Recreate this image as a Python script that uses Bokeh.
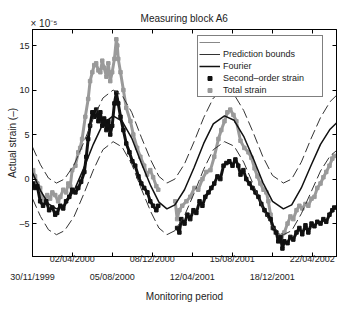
import math
from bokeh.plotting import figure
from bokeh.models import FixedTicker, LinearAxis, Range1d, Legend, LegendItem, Title
from bokeh.embed import file_html
from bokeh.resources import INLINE

NAN = float("nan")
FONT = "Liberation Sans"

chart_title = "Measuring block A6"
x_title = "Monitoring period"
y_title = "Actual strain (–)"
exp_note = "× 10⁻⁵"

# x positions are days since 30/11/1999
tick_days = [0, 124, 249, 374, 499, 624, 749, 874]
tick_labels = ["30/11/1999", "02/04/2000", "05/08/2000", "08/12/2000",
               "12/04/2001", "15/08/2001", "18/12/2001", "22/04/2002"]
y_ticks = [-5, 0, 5, 10, 15]
y_tick_labels = ["–5", "0", "5", "10", "15"]

# values in units of 1e-5
fourier_day = [0, 25, 50, 75, 100, 130, 160, 190, 220, 252, 280, 310, 340, 370, 395, 420,
               445, 475, 505, 535, 565, 600, 630, 660, 690, 720, 750, 784, 810, 840, 870,
               900, 930, 950]
fourier = [0.7, -1.3, -2.8, -3.35, -2.9, -1.3, 1.2, 3.9, 6.2, 7.1, 6.5, 4.6, 1.8, -0.8, -2.6,
           -3.35, -2.9, -1.2, 1.3, 4.0, 6.2, 7.1, 6.6, 4.8, 2.3, -0.4, -2.5, -3.35, -2.9,
           -1.0, 1.5, 3.9, 5.6, 6.3]
bound_upper = [3.6, 1.6, 0.1, -0.45, 0.0, 1.6, 4.1, 6.8, 9.1, 10.0, 9.4, 7.5, 4.7, 2.1, 0.3,
               -0.45, 0.0, 1.7, 4.2, 6.9, 9.1, 10.0, 9.5, 7.7, 5.2, 2.5, 0.4, -0.45, 0.0,
               1.9, 4.5, 6.9, 8.7, 9.4]
bound_lower = [-2.2, -4.2, -5.7, -6.25, -5.8, -4.2, -1.7, 1.0, 3.3, 4.2, 3.6, 1.7, -1.1, -3.7,
               -5.5, -6.25, -5.8, -4.1, -1.6, 1.1, 3.3, 4.2, 3.7, 1.9, -0.6, -3.3, -5.4,
               -6.25, -5.8, -3.9, -1.5, 0.9, 2.6, 3.2]

total_day = [2, 8, 15, 24, 30, 40, 46, 55, 62, 71, 80, 87, 96, 105, 112, 118, 124, 134, 143,
             149, 155, 165, 174, 180, 187, 193, 199, 206, 212, 218, 224, 231, 237, 243, 249,
             256, 262, 265, 268, 275, 284, 293, 306, 315, 327, 337, 349, 358, 368, 377, 387,
             393, NAN,
             446, 452, 459, 468, 481, 493, 506, 518, 531, 543, 556, 568, 581, 590, 600, 609,
             618, 628, 637, 650, 662, 675, 684, 694, 703, 712, 722, 731, 737, 744, 750, 759,
             768, 778, 787, 797, 806, 815, 825, 834, 843, 853, 862, 872, 881, 890, 900, 909,
             918, 928, 937, 943]
total_strain = [1.0, 0.3, -0.5, -1.0, -2.0, -2.5, -1.8, -2.2, -1.5, -1.8, -2.5, -2.0, -1.2,
                -1.5, -0.5, -0.8, 1.0, 1.5, 3.0, 3.5, 4.5, 7.0, 9.0, 11.0, 12.0, 12.8, 13.0,
                12.2, 12.0, 13.3, 12.5, 11.5, 13.0, 11.0, 12.0, 13.5, 15.7, 15.0, 13.5, 12.0,
                10.0, 8.0, 6.5, 5.0, 3.5, 2.5, 1.5, 0.5, 1.0, 0.2, -0.8, -1.2, NAN,
                -2.5, -4.5, -3.5, -3.0, -2.5, -2.0, -1.0, -1.2, 0.0, 0.8, 1.0, 2.5, 4.5, 5.5,
                6.5, 7.5, 7.8, 7.2, 6.5, 4.3, 3.5, 3.0, 2.4, 1.2, 0.3, -0.5, -1.2, -1.5, -2.5,
                -4.0, -5.5, -6.0, -6.3, -6.6, -6.0, -5.0, -4.2, -4.5, -3.5, -3.0, -3.3, -2.8,
                -3.0, -2.2, -2.0, -1.0, -0.5, 0.2, 0.8, 1.5, 2.3, 2.6]

second_day = [2, 8, 15, 24, 33, 43, 52, 62, 71, 77, 87, 96, 105, 115, 124, 134, 143, 152, 162,
              168, 174, 180, 187, 193, 199, 206, 212, 218, 224, 231, 237, 243, 249, 256, 262,
              268, 275, 284, 293, 303, 312, 321, 331, 340, 349, 359, 368, 377, 387, 393, NAN,
              452, 459, 465, 475, 484, 493, 503, 512, 522, 531, 540, 550, 559, 568, 578, 587,
              597, 606, 615, 625, 634, 643, 650, 659, 668, 678, 687, 697, 706, 715, 725, 734,
              744, 753, 762, 768, 775, 781, 787, 797, 806, 815, 825, 834, 843, 853, 862, 872,
              881, 890, 900, 909, 918, 928, 937, 943]
second_strain = [-0.5, -1.0, -0.8, -2.5, -3.0, -2.5, -3.5, -3.2, -4.0, -3.8, -3.0, -3.3, -2.5,
                 -2.0, -1.2, -1.5, -1.0, -0.3, 0.8, 2.5, 4.5, 6.0, 7.5, 7.0, 7.8, 6.5, 7.5,
                 6.0, 6.8, 5.5, 6.5, 5.0, 6.0, 8.5, 9.7, 8.5, 7.0, 5.5, 4.0, 3.0, 2.0, 1.5,
                 0.3, -0.5, -1.0, -1.5, -2.5, -3.0, -3.5, -3.0, NAN,
                 -5.5, -6.0, -4.5, -5.0, -4.0, -4.5, -3.5, -3.8, -2.5, -3.0, -2.0, -1.5, -1.0,
                 -0.5, 0.3, 0.0, 1.5, 1.8, 2.0, 1.5, 2.2, 1.5, 0.5, 1.0, 0.0, -0.5, -1.0, -1.5,
                 -2.0, -2.8, -3.5, -4.0, -4.5, -5.5, -6.0, -7.0, -6.5, -7.8, -7.0, -7.2, -6.5,
                 -6.8, -6.0, -5.5, -6.2, -5.2, -6.0, -5.0, -5.3, -4.8, -5.0, -4.5, -4.8, -4.0,
                 -3.5, -3.2]

GRAY = "#9a9a9a"
BLACK = "#111111"
TXT = "#222222"

p = figure(width=346, height=309, x_range=Range1d(0, 950), y_range=Range1d(-8.7, 16.8),
           output_backend="svg", toolbar_location=None,
           min_border_left=32, min_border_right=10, min_border_top=29, min_border_bottom=53)
p.xgrid.visible = False
p.ygrid.visible = False
p.outline_line_color = "black"
p.outline_line_width = 1
p.background_fill_color = "white"
p.border_fill_color = "white"

p.title.text = chart_title
p.title.align = "center"
p.title.text_font = FONT
p.title.text_font_size = "10px"
p.title.text_font_style = "normal"
p.title.text_color = TXT
try:
    p.title.standoff = -16
except Exception:
    p.title.standoff = 0

# data
r_total = p.line(total_day, total_strain, line_color=GRAY, line_width=3)
s_total = p.scatter(total_day, total_strain, marker="square", size=3.5, color=GRAY)
r_second = p.line(second_day, second_strain, line_color=BLACK, line_width=3)
s_second = p.scatter(second_day, second_strain, marker="square", size=3.5, color=BLACK)

p.line(fourier_day, bound_upper, line_color="#333333", line_width=1, line_dash="10 4")
p.line(fourier_day, bound_lower, line_color="#333333", line_width=1, line_dash="10 4")
p.line(fourier_day, fourier, line_color=BLACK, line_width=1.5)

# axes styling
def style_axis(ax):
    ax.axis_line_color = "black"
    ax.major_tick_line_color = "black"
    ax.major_tick_in = 4
    ax.major_tick_out = 0
    ax.minor_tick_line_color = "black"
    ax.minor_tick_in = 4
    ax.minor_tick_out = 0
    ax.major_label_text_font = FONT
    ax.major_label_text_font_size = "9px"
    ax.major_label_text_color = TXT
    ax.axis_label_text_font = FONT
    ax.axis_label_text_font_size = "10px"
    ax.axis_label_text_font_style = "normal"
    ax.axis_label_text_color = TXT

ya = p.yaxis[0]
style_axis(ya)
ya.ticker = FixedTicker(ticks=y_ticks, minor_ticks=[])
ya.major_label_overrides = {t: l for t, l in zip(y_ticks, y_tick_labels)}
ya.major_label_standoff = 3
ya.axis_label = y_title
ya.axis_label_standoff = -2

odd_days = tick_days[1::2]
even_days = tick_days[0::2]
xa = p.xaxis[0]
style_axis(xa)
xa.ticker = FixedTicker(ticks=odd_days, minor_ticks=even_days)
xa.major_label_overrides = {t: l for t, l in zip(odd_days, tick_labels[1::2])}
xa.major_label_standoff = -3

xa2 = LinearAxis(ticker=FixedTicker(ticks=even_days, minor_ticks=[]))
style_axis(xa2)
xa2.axis_line_color = None
xa2.major_tick_line_color = None
xa2.major_tick_in = 0
xa2.major_label_overrides = {t: l for t, l in zip(even_days, tick_labels[0::2])}
xa2.major_label_standoff = 5
xa2.axis_label = x_title
xa2.axis_label_standoff = 6
p.add_layout(xa2, "below")

ra = LinearAxis(ticker=FixedTicker(ticks=[], minor_ticks=y_ticks))
style_axis(ra)
p.add_layout(ra, "right")

ta = LinearAxis(ticker=FixedTicker(ticks=[], minor_ticks=tick_days))
style_axis(ta)
p.add_layout(ta, "above")

# exponent note above the top-left corner of the frame
exp_t = Title(text=exp_note, align="left", text_font=FONT, text_font_size="10px",
              text_font_style="normal", text_color=TXT, standoff=1, offset=-2)
p.add_layout(exp_t, "above")

# legend (line glyphs from one-point lines, so only the legend shows them)
l0 = p.line(fourier_day[:1], bound_upper[:1], line_color="#888888", line_width=1)
l1 = p.line(fourier_day[:1], bound_lower[:1], line_color="#333333", line_width=1)
l2 = p.line(fourier_day[:1], fourier[:1], line_color=BLACK, line_width=1.5)
legend = Legend(items=[
    LegendItem(label=" ", renderers=[l0]),
    LegendItem(label="Prediction bounds", renderers=[l1]),
    LegendItem(label="Fourier", renderers=[l2]),
    LegendItem(label="Second–order strain", renderers=[s_second]),
    LegendItem(label="Total strain", renderers=[s_total]),
], location=(165, 159))
legend.border_line_color = "black"
legend.border_line_width = 1
legend.background_fill_color = "white"
legend.background_fill_alpha = 1
legend.label_text_font = FONT
legend.label_text_font_size = "9px"
legend.label_text_color = TXT
legend.glyph_width = 21
legend.glyph_height = 10
legend.label_height = 10
legend.label_width = 98
legend.label_standoff = 3
legend.spacing = 2
legend.padding = 1
legend.margin = 0
p.add_layout(legend)

open("out.html", "w").write(file_html(p, INLINE))
